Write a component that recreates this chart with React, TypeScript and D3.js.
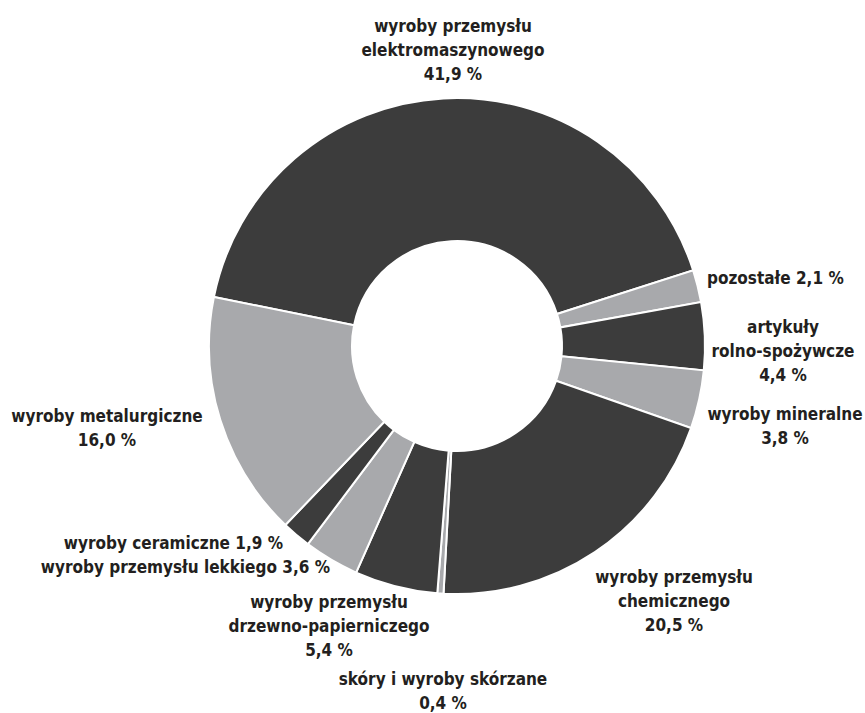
import React from "react";
import * as d3 from "d3";

// Export structure by product group (percent of total)
const categories = [
  "wyroby przemysłu elektromaszynowego",
  "pozostałe",
  "artykuły rolno-spożywcze",
  "wyroby mineralne",
  "wyroby przemysłu chemicznego",
  "skóry i wyroby skórzane",
  "wyroby przemysłu drzewno-papierniczego",
  "wyroby przemysłu lekkiego",
  "wyroby ceramiczne",
  "wyroby metalurgiczne",
];
const values = [41.9, 2.1, 4.4, 3.8, 20.5, 0.4, 5.4, 3.6, 1.9, 16.0];

// How each category name is broken into lines; "inline" puts the percent on the last line
const labelLines = [
  ["wyroby przemysłu", "elektromaszynowego"],
  ["pozostałe"],
  ["artykuły", "rolno-spożywcze"],
  ["wyroby mineralne"],
  ["wyroby przemysłu", "chemicznego"],
  ["skóry i wyroby skórzane"],
  ["wyroby przemysłu", "drzewno-papierniczego"],
  ["wyroby przemysłu lekkiego"],
  ["wyroby ceramiczne"],
  ["wyroby metalurgiczne"],
];

// Label placement (first baseline, anchor)
const labelLayout = [
  { x: 453, y: 32, anchor: "middle", inline: false },
  { x: 707, y: 284, anchor: "start", inline: true },
  { x: 783, y: 333, anchor: "middle", inline: false },
  { x: 785, y: 420, anchor: "middle", inline: false },
  { x: 674, y: 583, anchor: "middle", inline: false },
  { x: 443, y: 685, anchor: "middle", inline: false },
  { x: 329, y: 608, anchor: "middle", inline: false },
  { x: 330, y: 573, anchor: "end", inline: true },
  { x: 283, y: 549, anchor: "end", inline: true },
  { x: 107, y: 422, anchor: "middle", inline: false },
];

const DARK = "#3c3c3c";
const LIGHT = "#a8a9ac";
const sliceColors = [DARK, LIGHT, DARK, LIGHT, DARK, LIGHT, DARK, LIGHT, DARK, LIGHT];

const WIDTH = 865;
const HEIGHT = 713;
const CX = 457;
const CY = 346;
const OUTER = 248;
const INNER = 105;
const START = (-78.6 * Math.PI) / 180;
const LINE_H = 24;

const fmtPct = (v: number) => d3.format(".1f")(v).replace(".", ",") + " %";

export default function App() {
  const pie = d3
    .pie<number>()
    .sort(null)
    .value((d) => d)
    .startAngle(START)
    .endAngle(START + 2 * Math.PI);
  const arcs = pie(values);
  const arcGen = d3.arc<d3.PieArcDatum<number>>().innerRadius(INNER).outerRadius(OUTER);

  return (
    <svg
      width={WIDTH}
      height={HEIGHT}
      style={{ position: "absolute", left: 0, top: 0, background: "#fff" }}
    >
      <g transform={`translate(${CX},${CY})`}>
        {arcs.map((a, i) => (
          <path
            key={categories[i]}
            d={arcGen(a) || ""}
            fill={sliceColors[i]}
            stroke="#fff"
            strokeWidth={2}
            strokeLinejoin="miter"
          />
        ))}
      </g>
      <g
        fontFamily="'DejaVu Sans Condensed', 'DejaVu Sans', sans-serif"
        fontStretch="condensed"
        fontWeight="bold"
        fontSize={17}
        fill="#231f20"
      >
        {labelLayout.map((l, i) => {
          const lines = labelLines[i].slice();
          if (l.inline) {
            lines[lines.length - 1] = lines[lines.length - 1] + " " + fmtPct(values[i]);
          } else {
            lines.push(fmtPct(values[i]));
          }
          return (
            <text key={categories[i]} textAnchor={l.anchor}>
              {lines.map((t, j) => (
                <tspan key={j} x={l.x} y={l.y + j * LINE_H}>
                  {t}
                </tspan>
              ))}
            </text>
          );
        })}
      </g>
    </svg>
  );
}
